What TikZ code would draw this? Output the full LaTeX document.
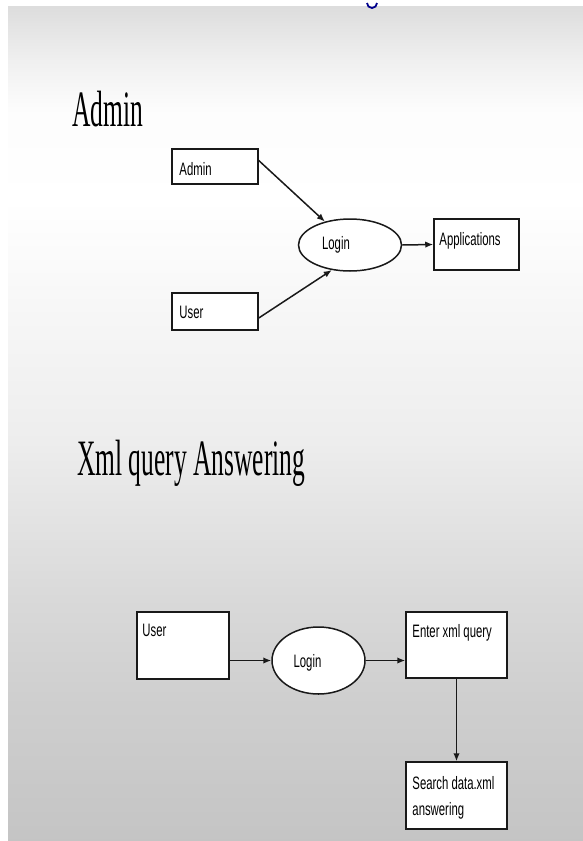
\documentclass[tikz,border=0pt]{standalone}
\usepackage{fontspec}
\newfontfamily\titlefont[FakeStretch=0.5]{Liberation Serif}
\newfontfamily\boxfont[FakeStretch=0.63]{Liberation Sans}
\usetikzlibrary{shapes.geometric,arrows.meta,shadows}
\tikzset{
  box/.style={draw=black!90, line width=1.5pt, fill=white, rectangle, inner sep=0pt,
    drop shadow={shadow xshift=1pt,shadow yshift=-1pt,fill=black!55,opacity=1}},
  oval/.style={draw=black!90, line width=1.5pt, fill=white, ellipse, inner sep=0pt},
  txt/.style={font=\boxfont\fontsize{18}{26}\selectfont, inner sep=0pt, text=black},
  title/.style={font=\titlefont\fontsize{51}{60}\selectfont, inner sep=0pt, anchor=base west},
  conn/.style={draw=black!90, line width=1.5pt, -{Latex[length=8pt,width=6.5pt]}}
}
\begin{document}
\begin{tikzpicture}[x=1pt,y=-1pt]
\useasboundingbox (0,0) rectangle (583,841);
\fill[white] (0,0) rectangle (583,841);
% background gradient
\shade[top color=white!86.5!black, bottom color=white!94!black] (8,6) rectangle (583,60.5);
\shade[top color=white!94!black, bottom color=white!99!black] (8,60) rectangle (583,110.5);
\shade[top color=white!99!black, bottom color=white] (8,110) rectangle (583,200.5);
\shade[top color=white, bottom color=white!97!black] (8,200) rectangle (583,300.5);
\shade[top color=white!97!black, bottom color=white!93!black] (8,300) rectangle (583,440.5);
\shade[top color=white!93!black, bottom color=white!85!black] (8,440) rectangle (583,600.5);
\shade[top color=white!85!black, bottom color=white!81!black] (8,600) rectangle (583,700.5);
\shade[top color=white!81!black, bottom color=white!77!black] (8,700) rectangle (583,841);
% small blue mark at top
\draw[blue!55!black, line width=1.8pt] (377,3) arc[start angle=0, end angle=180, radius=5];

% titles
\node[title] (t1) at (72,126) {Admin};
\node[title] (t2) at (77,475) {Xml query Answering};

% top diagram
\node[box, minimum width=86pt, minimum height=35pt,
  label={[txt, anchor=west, xshift=8pt, yshift=-2.5pt]west:Admin}] (adminA) at (215,166.5) {};
\node[box, minimum width=86pt, minimum height=37pt,
  label={[txt, anchor=west, xshift=8pt, yshift=-1pt]west:User}] (userA) at (215,311.5) {};
\node[oval, minimum width=103pt, minimum height=52pt,
  label={[txt, xshift=-14pt]center:Login}] (loginA) at (350,245) {};
\node[box, minimum width=85pt, minimum height=51pt,
  label={[txt, anchor=north west, xshift=6pt, yshift=-14pt]north west:Applications}] (apps) at (476.5,244.5) {};

\draw[conn] ([yshift=6pt]adminA.east) -- (loginA.137);
\draw[conn] ([yshift=-6.5pt]userA.east) -- (loginA.234);
\draw[conn] (loginA.east) -- (apps.west);

% bottom diagram
\node[box, minimum width=92pt, minimum height=67pt,
  label={[txt, anchor=north west, xshift=6pt, yshift=-13pt]north west:User}] (userB) at (183,645.5) {};
\node[oval, minimum width=93pt, minimum height=67pt,
  label={[txt, xshift=-11pt, yshift=-2pt]center:Login}] (loginB) at (318.5,660.5) {};
\node[box, minimum width=101pt, minimum height=66pt,
  label={[txt, anchor=north west, xshift=7pt, yshift=-13pt]north west:Enter xml query}] (enter) at (456.5,645) {};
\node[box, minimum width=101pt, minimum height=67pt,
  label={[txt, anchor=north west, xshift=7pt, yshift=-15pt, align=left]north west:Search data.xml\\answering}] (search) at (456.5,795.5) {};

\draw[conn] (userB.east |- loginB.west) -- (loginB.west);
\draw[conn] (loginB.east) -- (loginB.east -| enter.west);
\draw[conn] (enter.south) -- (search.north);
\end{tikzpicture}
\end{document}
